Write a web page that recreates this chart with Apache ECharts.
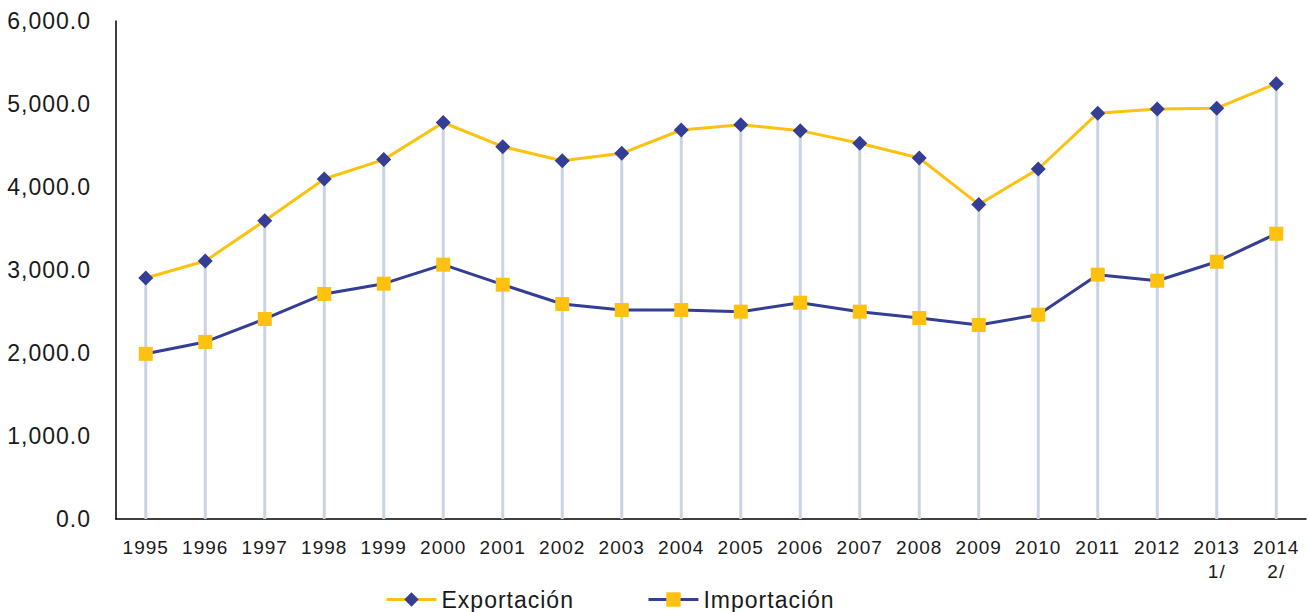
<!DOCTYPE html>
<html>
<head>
<meta charset="utf-8">
<script src="https://cdn.jsdelivr.net/npm/echarts@6/dist/echarts.min.js"></script>
<style>
  html, body { margin: 0; padding: 0; background: #fff; }
  #chart { width: 1309px; height: 612px; }
  /* texto espaciado como en el original */
  #chart svg text { letter-spacing: 1px; }
</style>
</head>
<body>
<div id="chart"></div>
<script>
// años (2013 y 2014 con nota)
const years = ['1995', '1996', '1997', '1998', '1999', '2000', '2001', '2002', '2003', '2004',
  '2005', '2006', '2007', '2008', '2009', '2010', '2011', '2012', '2013\n1/', '2014\n2/']

const exportacion = [2904, 3108, 3594, 4096, 4330, 4777, 4486, 4317, 4406, 4687,
  4750, 4679, 4527, 4350, 3790, 4217, 4889, 4940, 4950, 5245]

const importacion = [1990, 2133, 2410, 2711, 2835, 3064, 2823, 2590, 2518, 2518,
  2498, 2606, 2498, 2422, 2337, 2462, 2944, 2871, 3100, 3437]

const yTicks = { min: 0, max: 6000, interval: 1000 }

const AMARILLO = '#FDC10F'
const AZUL = '#333E94'
const FONT = "'Liberation Sans', Arial, sans-serif"

const chart = echarts.init(document.getElementById('chart'), null, { renderer: 'svg' })

chart.setOption({
  animation: false,
  grid: { left: 116, right: 3, top: 21, bottom: 93 },
  legend: {
    data: ['Exportación', 'Importación'],
    left: 380,
    top: 583,
    itemWidth: 50,
    itemHeight: 18,
    itemGap: 84,
    lineStyle: { width: 3 },
    textStyle: { fontFamily: FONT, fontSize: 23, color: '#1a1a1a' },
  },
  xAxis: {
    type: 'category',
    data: years,
    boundaryGap: true,
    axisLine: { lineStyle: { color: '#000', width: 1.5 } },
    axisTick: { show: false },
    axisLabel: {
      fontFamily: FONT,
      fontSize: 19,
      color: '#1a1a1a',
      margin: 16,
      lineHeight: 24,
      interval: 0,
    },
    splitLine: { show: false },
  },
  yAxis: {
    type: 'value',
    min: yTicks.min,
    max: yTicks.max,
    interval: yTicks.interval,
    axisLine: { show: true, lineStyle: { color: '#000', width: 1.5 } },
    axisTick: { show: false },
    splitLine: { show: false },
    axisLabel: {
      fontFamily: FONT,
      fontSize: 23,
      color: '#1a1a1a',
      margin: 25,
      formatter: (v) => v.toLocaleString('en-US', { minimumFractionDigits: 1, maximumFractionDigits: 1 }),
    },
  },
  series: [
    {
      // líneas de caída hasta el eje
      name: 'guia',
      type: 'bar',
      data: exportacion,
      barWidth: 3,
      silent: true,
      z: 1,
      itemStyle: { color: '#C8D5E0' },
    },
    {
      name: 'Exportación',
      type: 'line',
      data: exportacion,
      z: 3,
      symbol: 'diamond',
      symbolSize: 15,
      lineStyle: { color: AMARILLO, width: 3 },
      itemStyle: { color: AZUL },
    },
    {
      name: 'Importación',
      type: 'line',
      data: importacion,
      z: 3,
      symbol: 'rect',
      symbolSize: 14,
      lineStyle: { color: AZUL, width: 3 },
      itemStyle: { color: AMARILLO },
    },
  ],
})
</script>
</body>
</html>
